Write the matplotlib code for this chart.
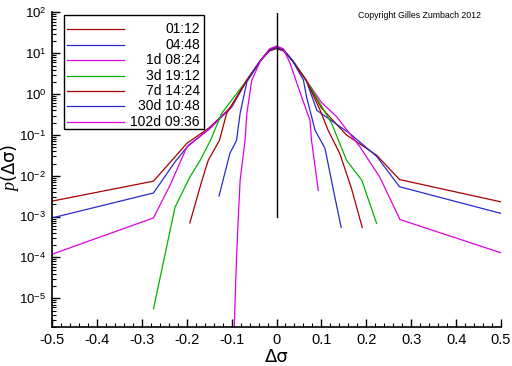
import matplotlib
matplotlib.use("Agg")
import matplotlib.pyplot as plt
from matplotlib.ticker import MultipleLocator, LogLocator, NullFormatter
from matplotlib.patches import Rectangle
from matplotlib.lines import Line2D

plt.rcParams['font.family'] = ['Liberation Sans', 'DejaVu Sans']
plt.rcParams['mathtext.fontset'] = 'custom'
plt.rcParams['mathtext.rm'] = 'Liberation Sans'
plt.rcParams['mathtext.it'] = 'Liberation Serif:italic'
plt.rcParams['axes.unicode_minus'] = False

labels = ["01:12", "04:48", "1d 08:24", "3d 19:12", "7d 14:24", "30d 10:48", "102d 09:36"]
colors = ["#A80000", "#2A2ACC", "#E000E0", "#00B400", "#A80000", "#2A2ACC", "#E000E0"]

# series: x = change in volatility, y = probability density
x1 = [-0.5, -0.274, -0.23, -0.2, -0.15, -0.1, -0.066, -0.035, -0.015, 0.0, 0.015, 0.035, 0.066, 0.1, 0.156, 0.223, 0.274, 0.5]
y1 = [2.4e-3, 7.4e-3, 2.6e-2, 6.2e-2, 1.5e-1, 5.0e-1, 2.2, 6.8, 11.5, 13.0, 11.5, 6.8, 2.2, 4.6e-1, 1.0e-1, 3.2e-2, 8.1e-3, 2.3e-3]

x2 = [-0.5, -0.274, -0.226, -0.196, -0.15, -0.1, -0.066, -0.035, -0.015, 0.0, 0.015, 0.035, 0.066, 0.09, 0.164, 0.223, 0.274, 0.5]
y2 = [9.3e-4, 3.8e-3, 2.2e-2, 5.6e-2, 1.4e-1, 4.8e-1, 2.2, 6.8, 11.8, 13.5, 11.8, 6.8, 2.2, 4.0e-1, 1.07e-1, 3.0e-2, 5.4e-3, 1.2e-3]

x3 = [-0.5, -0.274, -0.237, -0.2, -0.15, -0.1, -0.066, -0.035, -0.015, 0.0, 0.015, 0.035, 0.066, 0.1, 0.134, 0.186, 0.23, 0.275, 0.5]
y3 = [1.2e-4, 9.3e-4, 5.9e-3, 5.0e-2, 1.4e-1, 5.0e-1, 2.2, 6.8, 12.5, 14.5, 12.5, 6.8, 2.2, 6.3e-1, 2.8e-1, 5.1e-2, 9.3e-3, 8.5e-4, 1.3e-4]

x4 = [-0.274, -0.226, -0.193, -0.17, -0.147, -0.122, -0.066, -0.035, -0.015, 0.0, 0.015, 0.035, 0.074, 0.123, 0.156, 0.19, 0.223]
y4 = [5.5e-6, 1.7e-3, 9.3e-3, 2.4e-2, 7.4e-2, 3.4e-1, 2.2, 6.8, 12.2, 14.0, 12.2, 6.8, 1.6, 1.9e-1, 2.4e-2, 7.8e-3, 6.8e-4]

x5 = [-0.193, -0.167, -0.152, -0.127, -0.111, -0.066, -0.035, -0.015, 0.0, 0.015, 0.035, 0.066, 0.097, 0.115, 0.141, 0.167, 0.191]
y5 = [7.0e-4, 7.1e-3, 2.4e-2, 7.4e-2, 3.4e-1, 2.2, 6.8, 12.2, 14.0, 12.2, 6.8, 2.2, 4.1e-1, 1.3e-1, 3.5e-2, 4.9e-3, 5.4e-4]

x6 = [-0.128, -0.104, -0.089, -0.081, -0.066, -0.035, -0.015, 0.0, 0.015, 0.035, 0.06, 0.067, 0.086, 0.108, 0.13, 0.144]
y6 = [3.2e-3, 3.5e-2, 7.4e-2, 3.4e-1, 2.0, 6.8, 12.5, 14.5, 12.5, 6.8, 2.2, 8.5e-1, 1.3e-1, 4.7e-2, 3.0e-3, 5.5e-4]

x7 = [-0.095, -0.092, -0.089, -0.085, -0.081, -0.070, -0.066, -0.055, -0.035, -0.015, 0.0, 0.015, 0.03, 0.056, 0.0746, 0.078, 0.093]
y7 = [1.0e-6, 1.0e-5, 1.0e-4, 1.0e-3, 7.8e-3, 7.4e-2, 3.4e-1, 2.2, 6.8, 13.0, 15.0, 13.0, 5.8, 8.5e-1, 2.3e-1, 7.4e-2, 4.4e-3]

xs = [x1, x2, x3, x4, x5, x6, x7]
ys = [y1, y2, y3, y4, y5, y6, y7]

zero_x = [0.0, 0.0]
zero_y = [1e-3, 1e2]

xticks = [-0.5, -0.4, -0.3, -0.2, -0.1, 0, 0.1, 0.2, 0.3, 0.4, 0.5]
xticklabels = ["-0.5", "-0.4", "-0.3", "-0.2", "-0.1", "0", "0.1", "0.2", "0.3", "0.4", "0.5"]
yticks = [1e-5, 1e-4, 1e-3, 1e-2, 1e-1, 1e0, 1e1, 1e2]
yticklabels = ["$10^{-5}$", "$10^{-4}$", "$10^{-3}$", "$10^{-2}$", "$10^{-1}$", "$10^{0}$", "$10^{1}$", "$10^{2}$"]

fig = plt.figure(figsize=(5.12, 3.66), dpi=100)
ax = fig.add_axes([52/512, 1 - 327.3/366, 449/512, (327.3 - 12.5)/366])

for x, y, c in zip(xs, ys, colors):
    ax.plot(x, y, color=c, lw=0.9, clip_on=True)
ax.plot(zero_x, zero_y, color="black", lw=1.0)

ax.set_yscale("log")
ax.set_xlim(-0.5, 0.5)
ax.set_ylim(10**-5.71, 1e2)

ax.spines["top"].set_visible(False)
ax.spines["right"].set_visible(False)
for s in ("left", "bottom"):
    ax.spines[s].set_linewidth(1.2)

ax.set_xticks(xticks)
ax.set_xticklabels(xticklabels)
ax.xaxis.set_minor_locator(MultipleLocator(0.02))
ax.set_yticks(yticks)
ax.set_yticklabels(yticklabels)
ax.yaxis.set_minor_locator(LogLocator(base=10, subs=range(2, 10), numticks=20))
ax.yaxis.set_minor_formatter(NullFormatter())
ax.tick_params(which="major", direction="in", length=6, width=1, labelsize=9.5, pad=4)
ax.tick_params(which="minor", direction="in", length=3, width=0.8)
ax.tick_params(axis="x", which="major", labelsize=10.5, pad=4)

fig.text(276.5 / 512, 1 - 357 / 366, "Δσ", ha="center", va="center", fontsize=13, family="DejaVu Sans")
fig.text(10 / 512, 1 - 168 / 366, "$p$(Δσ)", ha="center", va="center", rotation=90,
         fontsize=13, family="DejaVu Sans")

# legend drawn in axes coordinates
lx0, lx1 = (64 - 52) / 449, (204 - 52) / 449
ly0, ly1 = (327.3 - 129) / 314.8, (327.3 - 15) / 314.8
ax.add_patch(Rectangle((lx0, ly0), lx1 - lx0, ly1 - ly0, transform=ax.transAxes,
                       facecolor="white", edgecolor="black", lw=1.0, zorder=5))
rows_px = [29.3, 44.6, 60.2, 75.6, 91.0, 106.4, 121.8]
for lab, c, rp in zip(labels, colors, rows_px):
    yy = (327.3 - rp) / 314.8
    ax.add_line(Line2D([(67 - 52) / 449, (124 - 52) / 449], [yy, yy], transform=ax.transAxes,
                       color=c, lw=0.9, zorder=6))
    ax.text((200 - 52) / 449, yy, lab, transform=ax.transAxes, ha="right", va="center",
            fontsize=10, zorder=7)

fig.text(420 / 512, 1 - 16 / 366, "Copyright Gilles Zumbach 2012", ha="center", va="center", fontsize=6.3)

fig.savefig("out.png", dpi=100)
